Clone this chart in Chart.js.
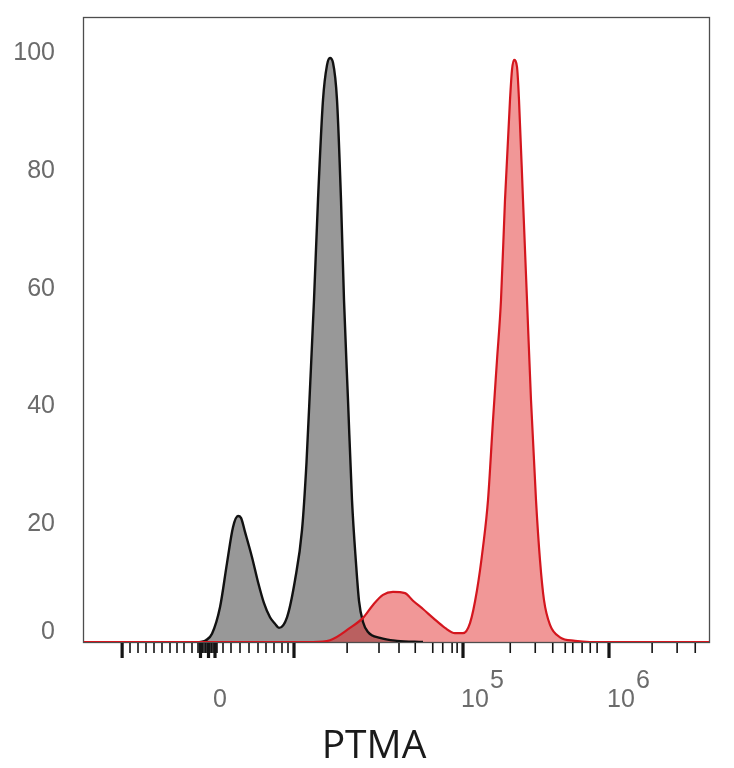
<!DOCTYPE html>
<html>
<head>
<meta charset="utf-8">
<script src="https://cdn.jsdelivr.net/npm/chart.js@4/dist/chart.umd.min.js"></script>
<style>
  html, body { margin: 0; padding: 0; background: #fff; }
  canvas { display: block; }
</style>
</head>
<body>
<canvas id="histo" width="734" height="768"></canvas>
<script>
// x positions are display channels (0..1000 across the logicle axis), y is % of max
const greyX = [185.6, 195.2, 204.8, 217.6, 228.8, 238.4, 246.4, 251.2, 257.6, 268.8, 278.4, 288, 297.6, 305.6, 312, 324.8, 337.6, 348.8, 356, 362, 368, 374.4, 382.4, 388.8, 393.6, 398.4, 404.8, 411.2, 416, 422.4, 428.8, 435.2, 440, 446.4, 454.4, 473.6, 500.8, 542.4];
const greyY = [0, 0.3, 1.4, 5.9, 13.4, 19.5, 21.4, 21.1, 18.7, 14.4, 10.2, 6.6, 4.2, 3.1, 2.4, 4.2, 10.5, 19.0, 30.5, 44.0, 58.1, 75.1, 92.1, 98, 99.2, 98.4, 92.1, 75.1, 58.1, 41.1, 24.1, 13.4, 7.0, 3.4, 1.7, 0.7, 0.2, 0];

const redX = [0, 366.4, 393.6, 425.6, 446.4, 462.4, 478.4, 494.4, 513.6, 526.4, 542.4, 558.4, 577.6, 593.6, 606.4, 617.6, 628.8, 638.4, 646.4, 654.4, 660.8, 667.2, 673.6, 681.6, 684.8, 688, 692.8, 696, 702.4, 708.8, 715.2, 723.2, 729.6, 736, 745.6, 761.6, 785.6, 809.6, 1000];
const redY = [0, 0, 0.3, 2.4, 4.1, 6.3, 8.0, 8.5, 8.3, 7.0, 5.6, 4.1, 2.4, 1.5, 1.5, 3.2, 8.8, 16.1, 24.1, 37.7, 47.9, 58.1, 75.1, 92.1, 97.2, 98.9, 97.7, 92.1, 75.1, 58.1, 41.1, 24.1, 13.9, 7.1, 2.9, 0.8, 0.2, 0, 0];

// logicle axis ticks (channels): -10^4, 0 cluster, 10^4, 10^5, 10^6
const xMajorTicks = [61, 186.4, 199.2, 209.6, 336, 606.4, 840];
const xMinorTicks = [73.6, 86.4, 99.2, 112, 124.8, 137.6, 148.8, 160, 172.8,
  182.4, 184.8, 187.2, 189.6, 192, 194.4, 196.8, 199.2, 201.6, 204, 206.4, 208.8, 211.2, 212.8,
  222.4, 235.2, 249.6, 264, 278.4, 291.2, 304, 316.8, 326.4,
  421, 472, 504, 530, 558, 574, 589, 597,
  682, 722, 750, 770, 782, 797, 810, 821,
  909, 949, 978];
const xLabelValues = [198.4, 606.4, 840];
const xLabelBase = ['0', '10', '10'];
const xLabelExp = ['', '5', '6'];

const yTicks = [0, 20, 40, 60, 80, 100];
const axisTitle = 'PTMA';

const toPoints = (xs, ys) => xs.map((x, i) => ({ x: x, y: ys[i] }));

const cytoAxes = {
  id: 'cytoAxes',
  beforeDatasetsDraw(chart) {
    const { ctx, chartArea: a } = chart;
    ctx.save();
    ctx.strokeStyle = '#4d4d4d';
    ctx.lineWidth = 1.3;
    ctx.strokeRect(a.left - 0.5, a.top - 0.5, a.right - a.left + 1, a.bottom - a.top + 1);
    ctx.restore();
  },
  afterDraw(chart) {
    const { ctx, chartArea: a } = chart;
    const xs = chart.scales.x, ys = chart.scales.y;
    ctx.save();
    // ticks under the plot
    ctx.fillStyle = '#141414';
    xMinorTicks.forEach(v => {
      const px = xs.getPixelForValue(v);
      ctx.fillRect(px - 0.8, a.bottom + 1, 1.6, 10);
    });
    xMajorTicks.forEach(v => {
      const px = xs.getPixelForValue(v);
      ctx.fillRect(px - 1.6, a.bottom + 1, 3.2, 15);
    });
    // x labels with superscript exponent
    ctx.fillStyle = '#6b6b6b';
    ctx.font = '25px "Liberation Sans", Arial, sans-serif';
    ctx.textBaseline = 'alphabetic';
    xLabelValues.forEach((v, i) => {
      const cx = xs.getPixelForValue(v) + 12;
      ctx.textAlign = 'center';
      ctx.fillText(xLabelBase[i], cx, a.bottom + 65);
      if (xLabelExp[i]) {
        const w = ctx.measureText(xLabelBase[i]).width;
        ctx.textAlign = 'left';
        ctx.fillText(xLabelExp[i], cx + w / 2 + 1, a.bottom + 46);
      }
    });
    // y labels
    ctx.textAlign = 'right';
    ctx.textBaseline = 'middle';
    yTicks.forEach(v => {
      const py = Math.min(ys.getPixelForValue(v), a.bottom - 10);
      ctx.fillText(String(v), 55, py);
    });
    // axis title
    ctx.fillStyle = '#1a1a1a';
    ctx.font = '39px "Open Sans", sans-serif';
    ctx.textAlign = 'center';
    ctx.textBaseline = 'alphabetic';
    ctx.fillText(axisTitle, 374, 758);
    ctx.restore();
  }
};

new Chart(document.getElementById('histo'), {
  type: 'line',
  data: {
    datasets: [{
      label: 'PTMA',
      data: toPoints(redX, redY),
      borderColor: 'rgb(212, 22, 30)',
      backgroundColor: 'rgba(225, 35, 35, 0.47)',
      borderWidth: 2.2,
      fill: 'origin',
      pointRadius: 0,
      cubicInterpolationMode: 'monotone'
    }, {
      label: 'Control',
      data: toPoints(greyX, greyY),
      borderColor: '#111',
      backgroundColor: 'rgb(152, 152, 152)',
      borderWidth: 2.4,
      fill: 'origin',
      pointRadius: 0,
      cubicInterpolationMode: 'monotone'
    }]
  },
  options: {
    responsive: false,
    animation: false,
    devicePixelRatio: 1,
    layout: {
      padding: { left: 84, right: 25, top: 18, bottom: 126 }
    },
    scales: {
      x: { type: 'linear', min: 0, max: 1000, display: false },
      y: { min: 0, max: 106, display: false }
    },
    plugins: {
      legend: { display: false },
      tooltip: { enabled: false },
      filler: { drawTime: 'beforeDatasetsDraw' }
    }
  },
  plugins: [cytoAxes]
});
</script>
</body>
</html>
